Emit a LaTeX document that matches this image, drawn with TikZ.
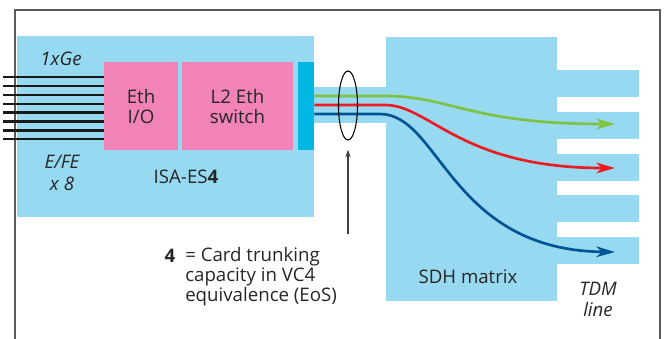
\documentclass[tikz,border=0pt]{standalone}
\usepackage{fontspec}
\setmainfont{Open Sans}
\usetikzlibrary{shapes.geometric,arrows.meta}
\definecolor{skyblue}{HTML}{97D9F0}
\definecolor{pinkbox}{HTML}{F283B6}
\definecolor{cyanbar}{HTML}{00B6E2}
\definecolor{gline}{HTML}{7DC242}
\definecolor{rline}{HTML}{ED1C24}
\definecolor{bline}{HTML}{005496}
\definecolor{framec}{HTML}{5A5A5A}
\tikzset{
  lbl/.style={font=\fontsize{14}{15}\selectfont, text=black!85, inner sep=0pt, align=center},
  ilbl/.style={lbl, font=\fontsize{14}{16}\selectfont\itshape},
  block/.style={fill=pinkbox, minimum height=66pt, inner sep=0pt},
  flow/.style={line width=2pt, -{Stealth[length=14pt,width=8pt,inset=4pt]}},
  fibre/.style={line width=1.7pt, black!90},
}
\begin{document}
\begin{tikzpicture}[x=0.75pt,y=-0.75pt]
\useasboundingbox (0,0) rectangle (665,339);
\draw[framec, line width=0.9pt] (15,339) -- (15,10) -- (660,10) -- (660,339);
\fill[skyblue] (17,36) rectangle (314,217);
\fill[skyblue] (314,87) rectangle (386,123);
\fill[skyblue] (386,37) rectangle (557,301);
\foreach \i in {0,...,4} \fill[skyblue] (557,{70+41.75*\i}) rectangle (639,{97+41.75*\i});
\node[block, minimum width=55.5pt] (ethio) at (141,106) {};
\node[block, minimum width=83.25pt] (l2sw) at (237.5,106) {};
\node[fill=cyanbar, minimum width=12pt, minimum height=66pt, inner sep=0pt] (bar) at (306,106) {};
\node[lbl] (ethiotxt) at (ethio) {Eth\\I/O};
\node[lbl] (l2swtxt) at (l2sw) {L2 Eth\\switch};
\foreach \n in {0,...,7} \draw[fibre] (3,{77+8.9*\n}) -- ({ethio.west}|-0,{77+8.9*\n});
\node[ilbl] (gbe) at (61,59) {1xGe};
\node[ilbl] (fe) at (62,173) {E/FE\\x 8};
\node[lbl] (isa) at (186,177) {ISA-ES\textbf{4}};
\coordinate (g0) at (bar.east|-0,96);
\coordinate (r0) at (bar.east|-0,105);
\coordinate (b0) at (bar.east|-0,114);
\coordinate (g1) at (615,124);
\coordinate (r1) at (615,168);
\coordinate (b1) at (615,252);
\draw[flow, gline] (g0) -- (385,96) .. controls (450,96) and (470,124) .. (g1);
\draw[flow, rline] (r0) -- (385,105) .. controls (430,105) and (460,168) .. (r1);
\draw[flow, bline] (b0) -- (380,114) .. controls (440,114) and (450,250) .. (b1);
\node[draw, ellipse, line width=0.8pt, minimum width=14.25pt, minimum height=51.75pt, inner sep=0pt] (ring) at (348,105.5) {};
\coordinate (ptr) at (348,234);
\draw[framec!70!black, line width=0.8pt, -{Stealth[length=6pt,width=4pt]}, shorten >=6.75pt] (ptr) -- (ring.south);
\node[lbl, font=\fontsize{14}{15}\selectfont\bfseries] (four) at (170,256) {4};
\node[lbl, align=left, anchor=west] (note) at (185,276.5) {= Card trunking\\capacity in VC4\\equivalence (EoS)};
\node[lbl] (sdh) at (468,277) {SDH matrix};
\node[ilbl] (tdm) at (598,299.5) {TDM\\line};
\end{tikzpicture}
\end{document}
